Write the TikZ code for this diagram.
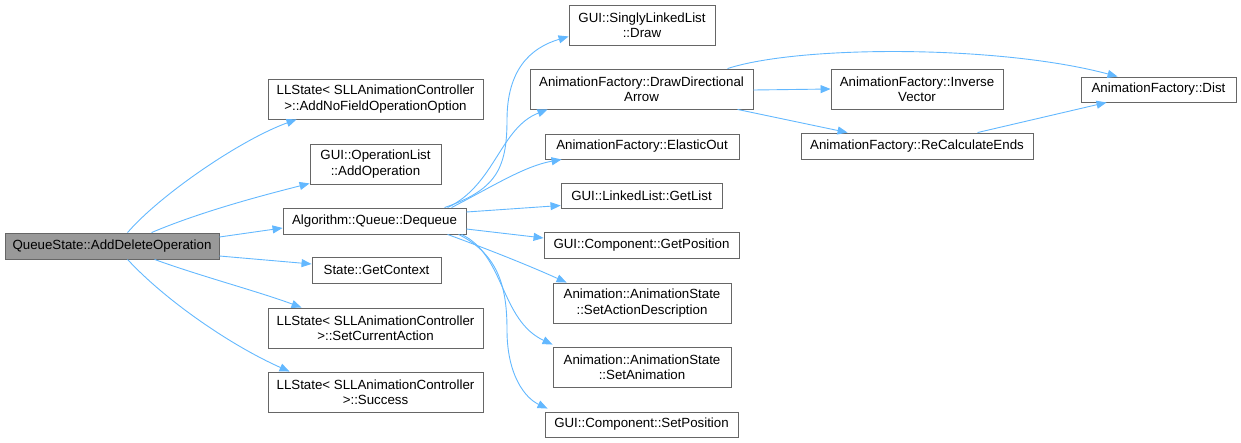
\documentclass[tikz,border=0pt]{standalone}
\usepackage{fontspec}
\setmainfont{Liberation Sans}
\usetikzlibrary{arrows.meta}
\definecolor{edgeblue}{HTML}{63B8FF}
\definecolor{boxline}{HTML}{666666}
\definecolor{rootfill}{HTML}{999999}
\tikzset{
  box/.style={draw=boxline, line width=0.9pt, fill=white, inner sep=0pt, align=center,
    font=\fontsize{13.3}{15.5}\selectfont, text=black},
  rootbox/.style={box, fill=rootfill},
  edge/.style={draw=edgeblue, line width=0.9pt, -{Triangle[length=10pt,width=8pt]}},
}
\begin{document}
\begin{tikzpicture}[x=1pt,y=-1pt]
\useasboundingbox (0,0) rectangle (1241,442);
% nodes
\node[rootbox, minimum width=214pt, minimum height=26pt] (n1) at (112,246) {QueueState::AddDeleteOperation};
\node[box, minimum width=215pt, minimum height=40pt] (n2) at (375.5,99) {LLState\textless{} SLLAnimationController\\ \textgreater::AddNoFieldOperationOption};
\node[box, minimum width=131pt, minimum height=40pt] (n3) at (375.5,164) {GUI::OperationList\\ ::AddOperation};
\node[box, minimum width=183pt, minimum height=26pt] (n4) at (374.5,221) {Algorithm::Queue::Dequeue};
\node[box, minimum width=129pt, minimum height=26pt] (n5) at (376.5,270) {State::GetContext};
\node[box, minimum width=215pt, minimum height=40pt] (n6) at (375.5,328) {LLState\textless{} SLLAnimationController\\ \textgreater::SetCurrentAction};
\node[box, minimum width=215pt, minimum height=40pt] (n7) at (375.5,392) {LLState\textless{} SLLAnimationController\\ \textgreater::Success};
\node[box, minimum width=146pt, minimum height=40pt] (n8) at (642,25) {GUI::SinglyLinkedList\\ ::Draw};
\node[box, minimum width=223pt, minimum height=40pt] (n9) at (641.5,89) {AnimationFactory::DrawDirectional\\ Arrow};
\node[box, minimum width=194pt, minimum height=25pt] (n10) at (642,146.5) {AnimationFactory::ElasticOut};
\node[box, minimum width=161pt, minimum height=25pt] (n11) at (641.5,195.5) {GUI::LinkedList::GetList};
\node[box, minimum width=195pt, minimum height=26pt] (n12) at (641.5,245) {GUI::Component::GetPosition};
\node[box, minimum width=178pt, minimum height=40pt] (n13) at (642,303) {Animation::AnimationState\\ ::SetActionDescription};
\node[box, minimum width=178pt, minimum height=40pt] (n14) at (642,367) {Animation::AnimationState\\ ::SetAnimation};
\node[box, minimum width=193pt, minimum height=25pt] (n15) at (641.5,424.5) {GUI::Component::SetPosition};
\node[box, minimum width=172pt, minimum height=40pt] (n16) at (917,89) {AnimationFactory::Inverse\\ Vector};
\node[box, minimum width=155pt, minimum height=25pt] (n17) at (1158.5,89.5) {AnimationFactory::Dist};
\node[box, minimum width=232pt, minimum height=26pt] (n18) at (917,146) {AnimationFactory::ReCalculateEnds};
% edges from root
\draw[edge] ([xshift=123pt]n1.north west) .. controls (160,195) and (240,140) .. ([xshift=29pt]n2.south west);
\draw[edge] ([xshift=147pt]n1.north west) .. controls (200,212) and (260,196) .. ([yshift=1pt]n3.south west);
\draw[edge] ([yshift=9pt]n1.east) -- ([yshift=-7pt]n4.west);
\draw[edge] ([yshift=-10pt]n1.east) -- ([yshift=6pt]n5.west);
\draw[edge] ([xshift=150pt]n1.south west) .. controls (200,276) and (260,292) .. ([xshift=34pt]n6.north west);
\draw[edge] ([xshift=123pt]n1.south west) .. controls (165,300) and (230,345) .. ([xshift=22pt]n7.north west);
% edges from Dequeue
\draw[edge] ([xshift=162pt]n4.north west) .. controls (495,190) and (507,170) .. (507,120)
  .. controls (507,70) and (530,48) .. ([yshift=9pt]n8.south west);
\draw[edge] ([xshift=165pt]n4.north west) .. controls (495,185) and (500,128) .. ([xshift=18pt]n9.south west);
\draw[edge] ([xshift=169pt]n4.north west) .. controls (495,185) and (525,166) .. ([xshift=17pt]n10.south west);
\draw[edge] ([yshift=9pt]n4.east) -- ([yshift=-10pt]n11.west);
\draw[edge] ([yshift=-8pt]n4.east) -- ([yshift=7pt]n12.west);
\draw[edge] ([xshift=165pt]n4.south west) .. controls (490,250) and (530,266) .. ([xshift=14pt]n13.north west);
\draw[edge] ([xshift=179pt]n4.south west) .. controls (505,255) and (500,320) .. ([yshift=2pt]n14.north west);
\draw[edge] ([xshift=176pt]n4.south west) .. controls (500,255) and (507,290) .. (507,330)
  .. controls (507,375) and (525,398) .. ([xshift=3pt,yshift=3pt]n15.north west);
% edges from DrawDirectionalArrow and ReCalculateEnds
\draw[edge] ([xshift=198pt]n9.north west) .. controls (800,45) and (1000,45) .. ([xshift=37pt]n17.north west);
\draw[edge] ([yshift=-1pt]n9.east) -- (n16.west);
\draw[edge] ([xshift=208pt]n9.south west) -- ([xshift=47pt]n18.north west);
\draw[edge] ([xshift=177pt]n18.north west) -- ([xshift=26pt]n17.south west);
\end{tikzpicture}
\end{document}
